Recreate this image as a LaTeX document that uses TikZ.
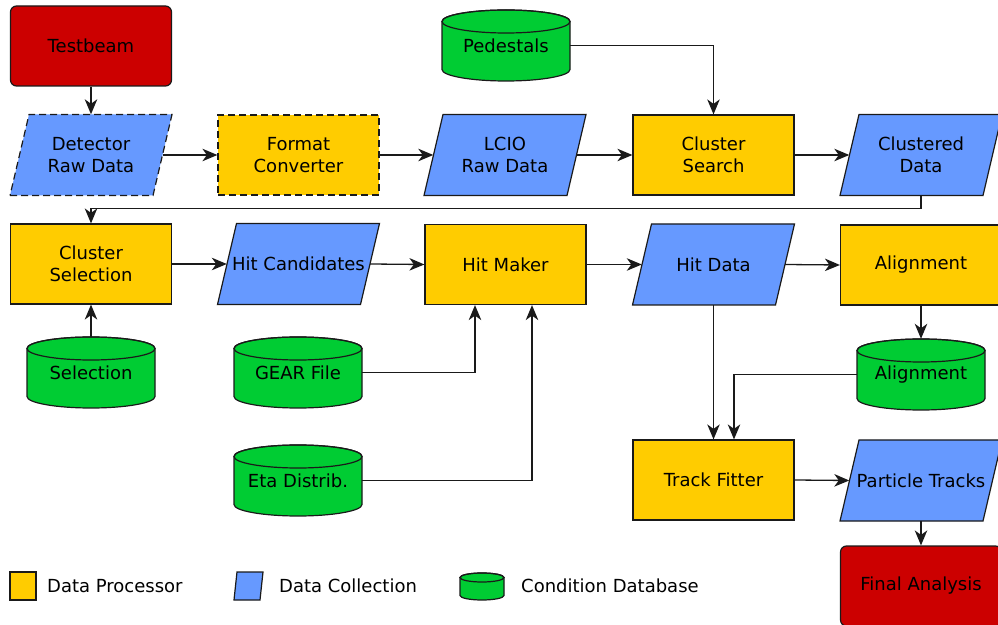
\documentclass[tikz,border=0pt]{standalone}
\usepackage{fontspec}
\setmainfont{DejaVu Sans}
\usetikzlibrary{arrows.meta}
\definecolor{procY}{HTML}{FFCC00}
\definecolor{dataB}{HTML}{6699FF}
\definecolor{dbG}{HTML}{00CC33}
\definecolor{srcR}{HTML}{CC0000}
\definecolor{edge}{HTML}{1A1A1A}
\tikzset{
  txt/.style={font=\fontsize{18}{22}\selectfont, align=center, inner sep=0pt},
  procbox/.style={txt, rectangle, draw=edge, fill=procY, line width=1.2pt, minimum width=161pt, minimum height=80pt},
  srcbox/.style={txt, rectangle, rounded corners=6pt, draw=edge, fill=srcR, line width=1.2pt, minimum width=161pt, minimum height=80pt},
  dashbox/.style={dash pattern=on 7pt off 4pt},
  datashape/.style={draw=edge, fill=dataB, line width=1.2pt},
  dbshape/.style={draw=edge, fill=dbG, line width=1.2pt},
  textonly/.style={txt, draw=none, fill=none},
  arr/.style={draw=edge, line width=1.3pt, -{Stealth[length=15pt,width=12.5pt,inset=4.5pt]}},
  legtxt/.style={font=\fontsize{18}{22}\selectfont, anchor=west, inner sep=0pt}
}
\newcommand\datacoll[5][]{%
  \filldraw[datashape,#1] ({#3-81},{#4-40.5}) -- ({#3+62},{#4-40.5}) -- ({#3+81},{#4+40.5}) -- ({#3-62},{#4+40.5}) -- cycle;
  \node[textonly,minimum width=143pt,minimum height=81pt] (#2) at (#3,#4) {#5};}
\newcommand\dbcyl[4]{%
  \filldraw[dbshape] ({#2-64},{#3+24}) -- ({#2-64},{#3-24}) arc[start angle=180,end angle=360,x radius=64pt,y radius=11.5pt] -- ({#2+64},{#3+24}) arc[start angle=0,end angle=180,x radius=64pt,y radius=11.5pt] -- cycle;
  \draw[dbshape,fill=none] ({#2},{#3+24}) ellipse[x radius=64pt,y radius=11.5pt];
  \node[textonly,minimum width=128pt,minimum height=71pt] (#1) at (#2,#3) {#4};}
\begin{document}
\begin{tikzpicture}[x=1pt,y=1pt]
\useasboundingbox (0,0) rectangle (998,624);
\begin{scope}
\clip (0,0) rectangle (998,624);
% row 1
\node[srcbox] (testbeam) at (91,578) {Testbeam};
\datacoll[dashbox]{detector}{91}{469}{Detector\\Raw Data}
\node[procbox,dashbox] (format) at (298.5,469) {Format\\Converter};
\datacoll{lcio}{505}{469}{LCIO\\Raw Data}
\node[procbox] (csearch) at (713.5,469) {Cluster\\Search};
\datacoll{clustered}{921}{469}{Clustered\\Data}
\dbcyl{pedestals}{506}{578.5}{Pedestals}
% row 2
\node[procbox] (csel) at (91,360) {Cluster\\Selection};
\datacoll{hitcand}{298.5}{360}{Hit Candidates}
\node[procbox] (hitmaker) at (505.5,359.5) {Hit Maker};
\datacoll{hitdata}{713.5}{359.5}{Hit Data}
\node[procbox] (align) at (921,359) {\raisebox{-2pt}{Alignment}};
% databases
\dbcyl{selection}{91}{251.5}{Selection}
\dbcyl{gear}{298}{251.5}{GEAR File}
\dbcyl{eta}{298}{143.5}{Eta Distrib.}
\dbcyl{aligncyl}{921}{249.5}{\raisebox{-2pt}{Alignment}}
% row 4
\node[procbox] (fitter) at (713.5,144) {Track Fitter};
\datacoll{tracks}{921}{143.5}{Particle Tracks}
\node[srcbox] (final) at (921,38) {Final Analysis};
% connectors
\draw[arr] (testbeam.south) -- (detector.north);
\draw[arr] (detector.east) -- (format.west);
\draw[arr] (format.east) -- (lcio.west);
\draw[arr] (lcio.east) -- (csearch.west);
\draw[arr] (csearch.east) -- (clustered.west);
\draw[arr] (pedestals.east) -| (csearch.north);
\draw[arr] (clustered.south) -- ++(0,-12.5) -| (csel.north);
\draw[arr] (csel.east) -- (hitcand.west);
\draw[arr] (hitcand.east) -- (hitmaker.west);
\draw[arr] (hitmaker.east) -- (hitdata.west);
\draw[arr] (hitdata.east) -- (align.west);
\draw[arr] (align.south) -- (aligncyl.north);
\draw[arr] (aligncyl.west) -| ([xshift=20.5pt]fitter.north);
\draw[arr] (hitdata.south) -- (fitter.north);
\draw[arr] (selection.north) -- (csel.south);
\draw[arr] (gear.east) -| ([xshift=-30.5pt]hitmaker.south);
\draw[arr] (eta.east) -| ([xshift=26.5pt]hitmaker.south);
\draw[arr] (fitter.east) -- (tracks.west);
\draw[arr] (tracks.south) -- (final.north);
% legend
\filldraw[draw=edge, fill=procY, line width=1.2pt] (10,24) rectangle (36,52);
\node[legtxt] (leg1) at (47,38) {Data Processor};
\filldraw[datashape] (234,24) -- (260,24) -- (263,52) -- (237,52) -- cycle;
\node[legtxt] (leg2) at (279,38) {Data Collection};
\filldraw[dbshape] (460,46.5) -- (460,28.5) arc[start angle=180,end angle=360,x radius=22pt,y radius=4.5pt] -- (504,46.5) arc[start angle=0,end angle=180,x radius=22pt,y radius=4.5pt] -- cycle;
\draw[dbshape,fill=none] (482,46.5) ellipse[x radius=22pt,y radius=4.5pt];
\node[legtxt] (leg3) at (521,38) {Condition Database};
\end{scope}
\end{tikzpicture}
\end{document}
